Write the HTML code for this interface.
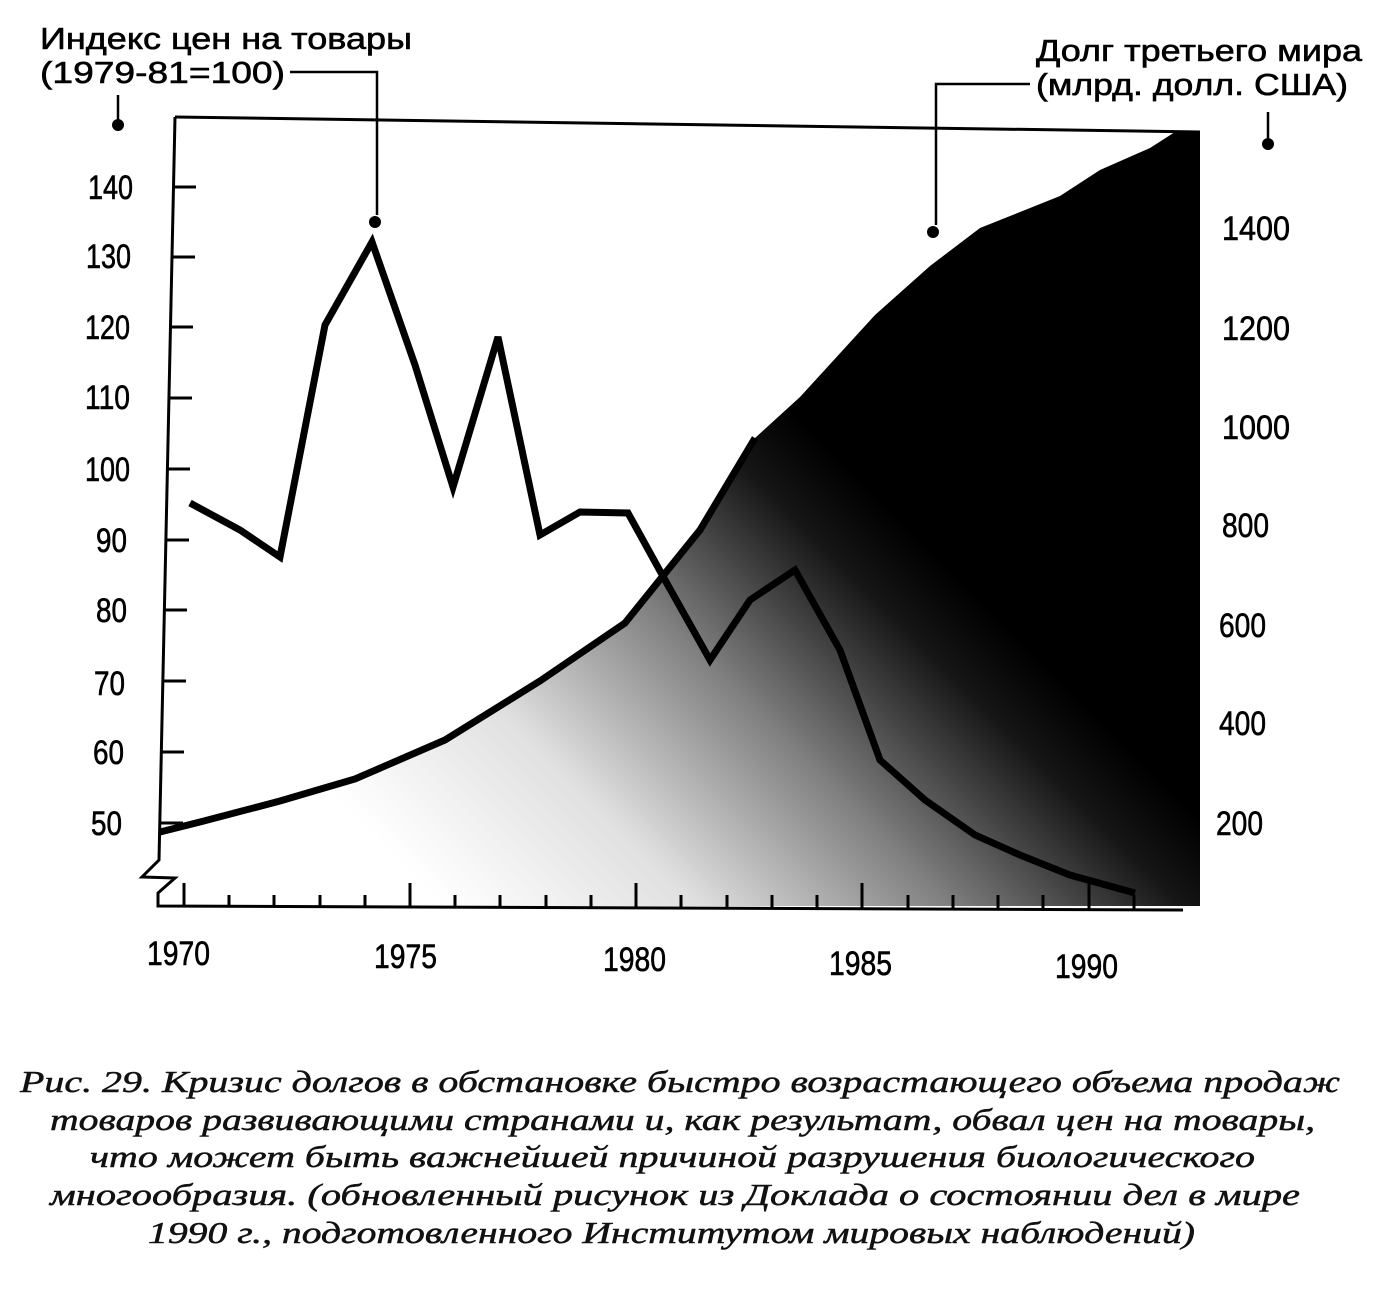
<!DOCTYPE html>
<html><head><meta charset="utf-8"><style>
html,body{margin:0;padding:0;background:#fff}
svg{display:block}
.s{font-family:"Liberation Sans",sans-serif;fill:#000;stroke:#000;stroke-width:0.6}
.c{font-family:"Liberation Serif",serif;font-style:italic;fill:#111;stroke:#111;stroke-width:0.5}
</style></head><body>
<svg width="1388" height="1289" viewBox="0 0 1388 1289" xmlns="http://www.w3.org/2000/svg">
<defs>
<linearGradient id="g" gradientUnits="userSpaceOnUse" x1="480" y1="940" x2="900" y2="520">
<stop offset="0" stop-color="#fff"/>
<stop offset="0.3" stop-color="#e0e0e0"/>
<stop offset="0.6" stop-color="#808080"/>
<stop offset="0.88" stop-color="#151515"/>
<stop offset="1" stop-color="#000"/>
</linearGradient>
</defs>
<path d="M160,832 L200,822 L280,801 L355,779 L445,740 L540,681 L625,623 L700,530 L755,438 L800,397 L875,315 L930,266 L980,228 L1060,196 L1100,170 L1150,148 L1175,132 L1200,132 L1200,906 L160,906 Z" fill="url(#g)"/>
<path d="M160,832 L200,822 L280,801 L355,779 L445,740 L540,681 L625,623 L700,530 L755,438" fill="none" stroke="#000" stroke-width="7"/>
<path d="M175,117 L1200,132" stroke="#000" stroke-width="3" fill="none"/>
<path d="M175,117 L159,860 L142,877 L175,878 L158,893 L158,906 L1183,910" stroke="#000" stroke-width="3" fill="none"/>
<g stroke="#000" stroke-width="3">
<line x1="174" y1="187" x2="196" y2="187"/><line x1="173" y1="257" x2="195" y2="257"/>
<line x1="171" y1="327" x2="193" y2="327"/><line x1="170" y1="398" x2="192" y2="398"/>
<line x1="168" y1="469" x2="190" y2="469"/><line x1="167" y1="540" x2="189" y2="540"/>
<line x1="165" y1="610" x2="187" y2="610"/><line x1="164" y1="681" x2="186" y2="681"/>
<line x1="162" y1="752" x2="184" y2="752"/><line x1="161" y1="823" x2="183" y2="823"/>
</g>
<g stroke="#000" stroke-width="3">
<line x1="184" y1="883" x2="184" y2="906"/><line x1="229" y1="895" x2="229" y2="906"/>
<line x1="274" y1="895" x2="274" y2="906"/><line x1="320" y1="895" x2="320" y2="907"/>
<line x1="365" y1="895" x2="365" y2="907"/><line x1="410" y1="883" x2="410" y2="907"/>
<line x1="455" y1="895" x2="455" y2="907"/><line x1="500" y1="895" x2="500" y2="907"/>
<line x1="546" y1="895" x2="546" y2="907"/><line x1="591" y1="895" x2="591" y2="908"/>
<line x1="636" y1="883" x2="636" y2="908"/><line x1="681" y1="895" x2="681" y2="908"/>
<line x1="727" y1="895" x2="727" y2="908"/><line x1="772" y1="895" x2="772" y2="908"/>
<line x1="817" y1="895" x2="817" y2="909"/><line x1="862" y1="883" x2="862" y2="909"/>
<line x1="908" y1="895" x2="908" y2="909"/><line x1="953" y1="895" x2="953" y2="909"/>
<line x1="998" y1="895" x2="998" y2="909"/><line x1="1043" y1="895" x2="1043" y2="910"/>
<line x1="1089" y1="883" x2="1089" y2="910"/><line x1="1134" y1="895" x2="1134" y2="910"/>
</g>
<polyline points="190,503 240,530 280,557 325,325 372,242 415,365 453,487 498,337 540,535 580,512 628,513 665,580 710,660 750,600 795,570 840,650 880,760 925,800 975,835 1020,855 1070,875 1135,893" fill="none" stroke="#000" stroke-width="7" stroke-linejoin="miter"/>
<g class="s" font-size="34" lengthAdjust="spacingAndGlyphs">
<text x="88" y="199" textLength="45" lengthAdjust="spacingAndGlyphs">140</text>
<text x="86" y="268" textLength="45" lengthAdjust="spacingAndGlyphs">130</text>
<text x="85" y="339" textLength="45" lengthAdjust="spacingAndGlyphs">120</text>
<text x="85" y="409" textLength="45" lengthAdjust="spacingAndGlyphs">110</text>
<text x="85" y="481" textLength="45" lengthAdjust="spacingAndGlyphs">100</text>
<text x="96" y="552" textLength="31" lengthAdjust="spacingAndGlyphs">90</text>
<text x="96" y="622" textLength="31" lengthAdjust="spacingAndGlyphs">80</text>
<text x="94" y="695" textLength="31" lengthAdjust="spacingAndGlyphs">70</text>
<text x="93" y="764" textLength="31" lengthAdjust="spacingAndGlyphs">60</text>
<text x="91" y="835" textLength="31" lengthAdjust="spacingAndGlyphs">50</text>
<text x="1222" y="240" textLength="68" lengthAdjust="spacingAndGlyphs">1400</text>
<text x="1222" y="340" textLength="68" lengthAdjust="spacingAndGlyphs">1200</text>
<text x="1222" y="439" textLength="68" lengthAdjust="spacingAndGlyphs">1000</text>
<text x="1222" y="537" textLength="47" lengthAdjust="spacingAndGlyphs">800</text>
<text x="1219" y="637" textLength="47" lengthAdjust="spacingAndGlyphs">600</text>
<text x="1219" y="735" textLength="47" lengthAdjust="spacingAndGlyphs">400</text>
<text x="1216" y="835" textLength="47" lengthAdjust="spacingAndGlyphs">200</text>
<text x="147" y="965" textLength="63" lengthAdjust="spacingAndGlyphs">1970</text>
<text x="374" y="968" textLength="63" lengthAdjust="spacingAndGlyphs">1975</text>
<text x="603" y="971" textLength="63" lengthAdjust="spacingAndGlyphs">1980</text>
<text x="829" y="975" textLength="63" lengthAdjust="spacingAndGlyphs">1985</text>
<text x="1055" y="978" textLength="63" lengthAdjust="spacingAndGlyphs">1990</text>
</g>
<g class="s" font-size="31">
<text x="40" y="49" textLength="372" lengthAdjust="spacingAndGlyphs">Индекс цен на товары</text>
<text x="40" y="83" textLength="245" lengthAdjust="spacingAndGlyphs">(1979-81=100)</text>
<text x="1036" y="61" textLength="326" lengthAdjust="spacingAndGlyphs">Долг третьего мира</text>
<text x="1036" y="95" textLength="312" lengthAdjust="spacingAndGlyphs">(млрд. долл. США)</text>
</g>
<g stroke="#000" stroke-width="2.5" fill="none">
<path d="M290,72 L377,72 L377,215"/>
<path d="M1030,84 L936,84 L936,225"/>
<path d="M118,95 L118,120"/>
<path d="M1268,112 L1268,138"/>
</g>
<g fill="#000">
<circle cx="118" cy="125" r="6"/><circle cx="375" cy="222" r="6"/>
<circle cx="933" cy="232" r="6"/><circle cx="1268" cy="144" r="6"/>
</g>
<g class="c" font-size="31">
<text x="20" y="1092" textLength="1320" lengthAdjust="spacingAndGlyphs">Рис. 29. Кризис долгов в обстановке быстро возрастающего объема продаж</text>
<text x="50" y="1130" textLength="1265" lengthAdjust="spacingAndGlyphs">товаров развивающими странами и, как результат, обвал цен на товары,</text>
<text x="90" y="1167" textLength="1165" lengthAdjust="spacingAndGlyphs">что может быть важнейшей причиной разрушения биологического</text>
<text x="50" y="1205" textLength="1250" lengthAdjust="spacingAndGlyphs">многообразия. (обновленный рисунок из Доклада о состоянии дел в мире</text>
<text x="148" y="1243" textLength="1047" lengthAdjust="spacingAndGlyphs">1990 г., подготовленного Институтом мировых наблюдений)</text>
</g>
</svg>
</body></html>
